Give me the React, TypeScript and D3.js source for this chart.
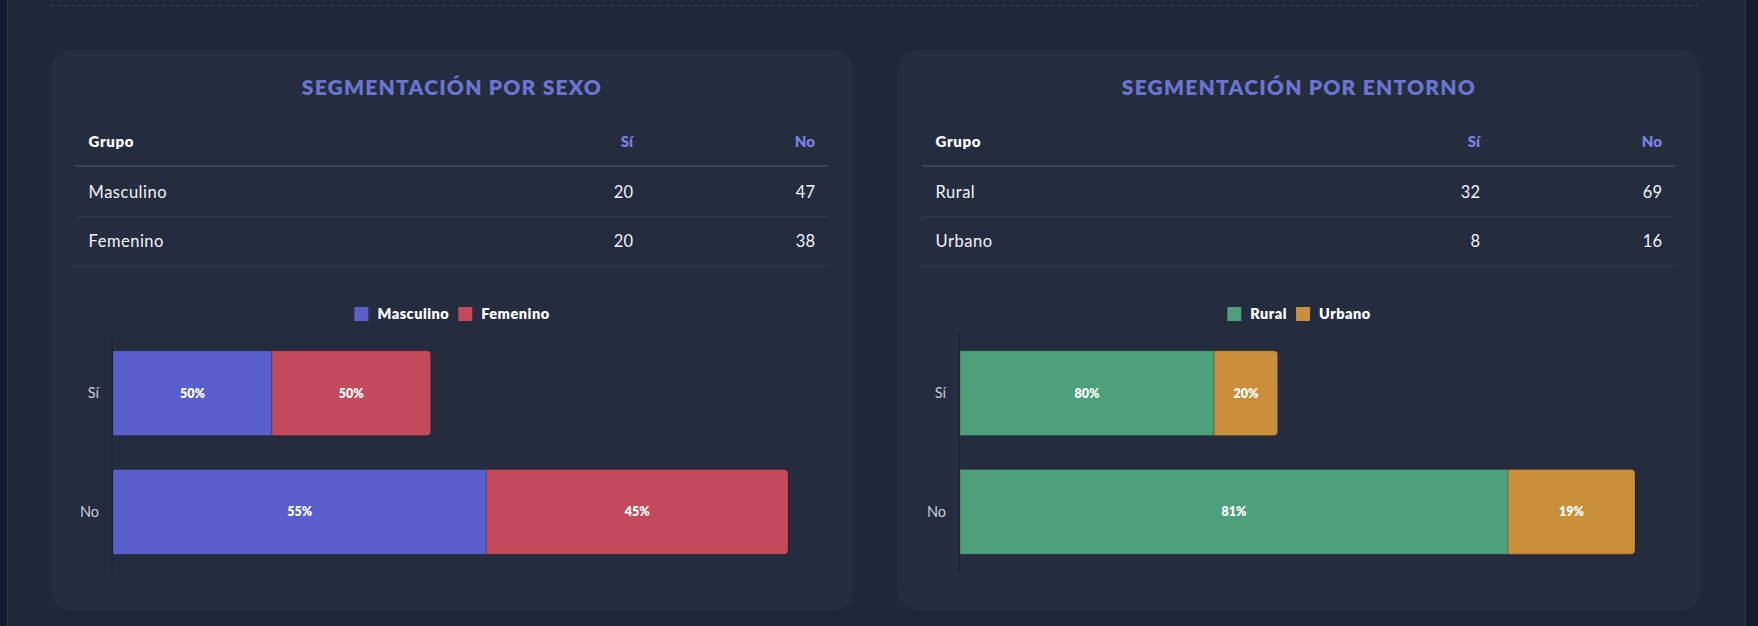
import React, { useEffect, useRef } from 'react';
import * as d3 from 'd3';

// answer categories (bars) and table columns
const answers = ['Sí', 'No'];

// segmentation by sex
const sexGroups = ['Masculino', 'Femenino'];
const sexSi = [20, 20];
const sexNo = [47, 38];
const sexColors = ['#5b5fce', '#c44b5d'];

// segmentation by environment
const envGroups = ['Rural', 'Urbano'];
const envSi = [32, 8];
const envNo = [69, 16];
const envColors = ['#4ca07b', '#c98f3b'];

const titles = ['SEGMENTACIÓN POR SEXO', 'SEGMENTACIÓN POR ENTORNO'];

const W = 1758;
const H = 626;
const FONT = 'Lato, "Open Sans", sans-serif';

interface Panel {
  title: string;
  groups: string[];
  si: number[];
  no: number[];
  colors: string[];
}

const App: React.FC = () => {
  const svgRef = useRef<SVGSVGElement>(null);

  useEffect(() => {
    if (!svgRef.current) return;
    const svg = d3.select(svgRef.current);
    svg.selectAll('*').remove();

    // page background
    svg.append('rect').attr('width', W).attr('height', H).attr('fill', '#141a30');
    svg.append('rect').attr('x', 7).attr('width', 1738).attr('height', H).attr('fill', '#202738');
    svg.append('line').attr('x1', 7.5).attr('x2', 7.5).attr('y1', 0).attr('y2', H)
      .attr('stroke', '#2f374a');
    svg.append('line').attr('x1', 1745.5).attr('x2', 1745.5).attr('y1', 0).attr('y2', H)
      .attr('stroke', '#2f374a');
    svg.append('line').attr('x1', 50).attr('x2', 1700).attr('y1', 5.5).attr('y2', 5.5)
      .attr('stroke', '#353e52').attr('stroke-dasharray', '4,3');

    const panels: Panel[] = [
      { title: titles[0], groups: sexGroups, si: sexSi, no: sexNo, colors: sexColors },
      { title: titles[1], groups: envGroups, si: envSi, no: envNo, colors: envColors },
    ];

    const cardW = 804;
    const cardH = 561;

    panels.forEach((p, pi) => {
      const card = svg.append('g').attr('transform', `translate(${pi === 0 ? 50 : 897}, 50)`);
      card.append('rect').attr('width', cardW).attr('height', cardH).attr('rx', 22)
        .attr('fill', '#242c3e');

      card.append('text')
        .attr('x', cardW / 2).attr('y', 88 - 50)
        .attr('dy', '0.35em')
        .attr('text-anchor', 'middle')
        .style('font-family', FONT)
        .style('font-size', '21px')
        .style('font-weight', '800')
        .style('letter-spacing', '1.2px')
        .style('fill', '#6b74cf')
        .text(p.title);

      // table
      const colX = [38.6, 583, 765];
      const headY = 92;
      card.append('text').attr('x', colX[0]).attr('y', headY).attr('dy', '0.35em')
        .style('font-family', FONT).style('font-size', '15px').style('font-weight', '800')
        .style('letter-spacing', '0.6px')
        .style('fill', '#ffffff').text('Grupo');
      answers.forEach((a, i) => {
        card.append('text').attr('x', colX[i + 1]).attr('y', headY).attr('dy', '0.35em')
          .attr('text-anchor', 'end')
          .style('font-family', FONT).style('font-size', '15px').style('font-weight', '800')
          .style('fill', '#7b80e0').text(a);
      });
      card.append('line').attr('x1', 25).attr('x2', 778).attr('y1', 116).attr('y2', 116)
        .attr('stroke', '#3b4457').attr('stroke-width', 2);

      p.groups.forEach((g, i) => {
        const cy = 142 + i * 49.5;
        card.append('text').attr('x', colX[0]).attr('y', cy).attr('dy', '0.35em')
          .style('font-family', FONT).style('font-size', '16.5px')
          .style('letter-spacing', '0.5px')
          .style('fill', '#f2f3f7').text(g);
        [p.si[i], p.no[i]].forEach((v, j) => {
          card.append('text').attr('x', colX[j + 1]).attr('y', cy).attr('dy', '0.35em')
            .attr('text-anchor', 'end')
            .style('font-family', FONT).style('font-size', '16.5px')
            .style('fill', '#f2f3f7').text(v);
        });
        card.append('line').attr('x1', 25).attr('x2', 778)
          .attr('y1', cy + 24.5).attr('y2', cy + 24.5)
          .attr('stroke', '#2f3749').attr('stroke-width', 1);
      });

      // legend
      const legend = card.append('g');
      let lx = 0;
      p.groups.forEach((g, i) => {
        const item = legend.append('g').attr('transform', `translate(${lx},0)`);
        item.append('rect').attr('x', 0).attr('y', -7).attr('width', 14).attr('height', 14)
          .attr('fill', p.colors[i]);
        const t = item.append('text').attr('x', 23).attr('dy', '0.35em')
          .style('font-family', FONT).style('font-size', '14.5px').style('font-weight', '800')
          .style('letter-spacing', '0.5px')
          .style('fill', '#ffffff').text(g);
        const tw = (t.node() as SVGTextElement).getComputedTextLength();
        lx += 23 + tw + 9;
      });
      const legW = lx - 9;
      legend.attr('transform', `translate(${cardW / 2 - legW / 2}, ${314 - 50})`);

      // stacked bars
      const rows = answers.map((a, ai) => {
        const r: Record<string, number | string> = { answer: a };
        p.groups.forEach((g, gi) => { r[g] = ai === 0 ? p.si[gi] : p.no[gi]; });
        return r;
      });
      const totals = answers.map((_, ai) => d3.sum(ai === 0 ? p.si : p.no));

      const stack = d3.stack<Record<string, number | string>>()
        .keys(p.groups)
        .value((d, k) => d[k] as number);
      const series = stack(rows);

      const x = d3.scaleLinear().domain([0, d3.max(totals) as number]).range([63, 738]);
      const y = d3.scaleBand<string>().domain(answers).range([283, 522])
        .paddingInner(0.285).paddingOuter(0.15);

      card.append('line').attr('x1', 62).attr('x2', 62).attr('y1', 283).attr('y2', 522)
        .attr('stroke', '#1b2130').attr('stroke-width', 1);

      const bw = y.bandwidth();
      series.forEach((s, si) => {
        const last = si === series.length - 1;
        s.forEach((d, di) => {
          const x0 = x(d[0]);
          const x1 = x(d[1]);
          const y0 = y(answers[di]) as number;
          const r = last ? 4 : 0;
          const path = d3.path();
          path.moveTo(x0, y0);
          path.lineTo(x1 - r, y0);
          if (r) path.arcTo(x1, y0, x1, y0 + r, r);
          path.lineTo(x1, y0 + bw - r);
          if (r) path.arcTo(x1, y0 + bw, x1 - r, y0 + bw, r);
          path.lineTo(x0, y0 + bw);
          path.closePath();
          card.append('path').attr('d', path.toString())
            .attr('fill', p.colors[si])
            .attr('stroke', 'rgba(0,0,0,0.18)').attr('stroke-width', 1);

          const pct = Math.round(((d[1] - d[0]) / totals[di]) * 100);
          card.append('text')
            .attr('x', (x0 + x1) / 2).attr('y', y0 + bw / 2).attr('dy', '0.35em')
            .attr('text-anchor', 'middle')
            .style('font-family', FONT).style('font-size', '12.5px').style('font-weight', '800')
            .style('fill', '#ffffff').text(`${pct}%`);
        });
      });

      answers.forEach((a) => {
        card.append('text').attr('x', 49).attr('y', (y(a) as number) + bw / 2).attr('dy', '0.35em')
          .attr('text-anchor', 'end')
          .style('font-family', FONT).style('font-size', '14.5px')
          .style('fill', '#c9ccd6').text(a);
      });
    });
  }, []);

  return (
    <svg
      ref={svgRef}
      width={W}
      height={H}
      viewBox={`0 0 ${W} ${H}`}
      style={{ position: 'absolute', left: 0, top: 0, display: 'block' }}
    />
  );
};

export default App;
